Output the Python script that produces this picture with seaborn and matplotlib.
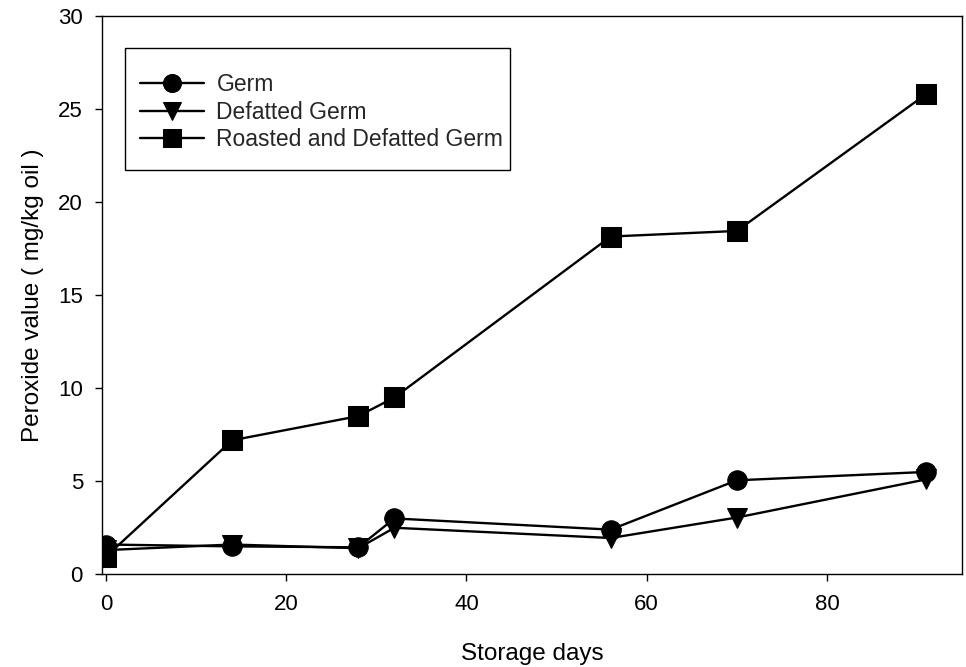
import matplotlib
matplotlib.use("Agg")
import matplotlib.pyplot as plt
from matplotlib.patches import Rectangle
import seaborn as sns
import pandas as pd

days = [0, 14, 28, 32, 56, 70, 91]
germ = [1.6, 1.5, 1.45, 3.0, 2.4, 5.05, 5.5]
defatted_germ = [1.3, 1.6, 1.4, 2.5, 1.95, 3.05, 5.1]
roasted_defatted_germ = [0.95, 7.2, 8.5, 9.5, 18.15, 18.45, 25.8]

series_names = ["Germ", "Defatted Germ", "Roasted and Defatted Germ"]
x_ticks = [0, 20, 40, 60, 80]
y_ticks = [0, 5, 10, 15, 20, 25, 30]

frames = []
for name, vals in zip(series_names, [germ, defatted_germ, roasted_defatted_germ]):
    frames.append(pd.DataFrame({"day": days, "pv": vals, "sample": name}))
df = pd.concat(frames, ignore_index=True)

sns.set_theme(style="ticks")
plt.rcParams["font.family"] = ["Liberation Sans", "DejaVu Sans"]

fig = plt.figure(figsize=(9.66, 6.67), dpi=100)
ax = fig.add_axes([0.106, 0.139, 0.89, 0.837])

sns.lineplot(
    data=df, x="day", y="pv", hue="sample", style="sample",
    hue_order=series_names, style_order=series_names,
    palette=["black"] * 3, markers=["o", "v", "s"], dashes=False,
    markersize=14, markeredgecolor="black", linewidth=1.7, ax=ax,
)

ax.set_xlim(-0.4, 95)
ax.set_ylim(0, 30)
ax.set_xticks(x_ticks)
ax.set_yticks(y_ticks)
ax.tick_params(axis="both", direction="out", length=5, width=1, labelsize=16,
               color="black", labelcolor="black", pad=9)
for sp in ax.spines.values():
    sp.set_visible(True)
    sp.set_color("black")
    sp.set_linewidth(1.0)

ax.set_xlabel("Storage days", fontsize=17.5, labelpad=20, color="black")
ax.set_ylabel("Peroxide value ( mg/kg oil )", fontsize=17.5, labelpad=10, color="black")

# legend entries without their own frame; a separate box is drawn around them
leg = ax.legend(
    loc="upper left", bbox_to_anchor=(0.0434, 0.898), fontsize=16.5,
    frameon=False, handlelength=2.8, borderpad=0, labelspacing=0.2,
    handletextpad=0.55, borderaxespad=0,
)
for h in leg.legend_handles:
    h.set_markersize(13)
ax.add_patch(Rectangle((0.026, 0.7236), 0.448, 0.2184, transform=ax.transAxes,
                       fill=False, edgecolor="black", linewidth=1.0, zorder=5))

fig.savefig("out.png", dpi=100)
